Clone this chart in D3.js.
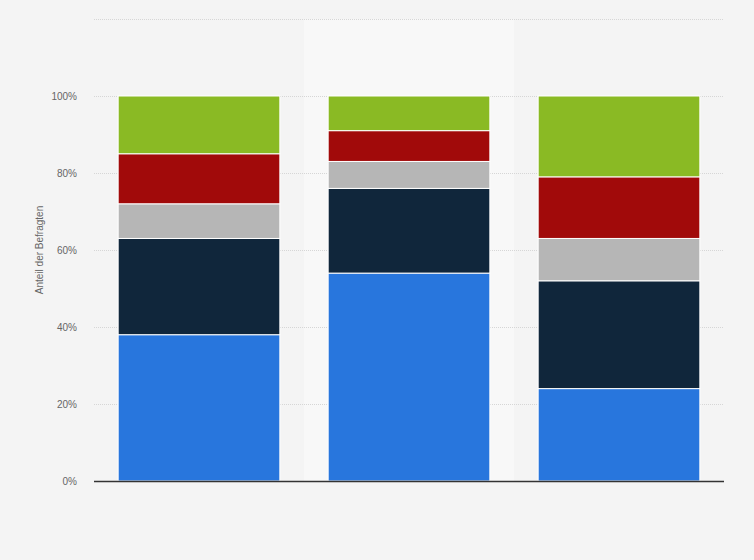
<!DOCTYPE html>
<html>
<head>
<meta charset="utf-8">
<script src="https://cdn.jsdelivr.net/npm/d3@7"></script>
<style>
  body { margin: 0; background: #f4f4f4; }
  svg { display: block; }
</style>
</head>
<body>
<svg id="chart"></svg>
<script>
// data (percent of respondents)
let categories = ["Gruppe 1", "Gruppe 2", "Gruppe 3"];
let seriesNames = ["Kategorie A", "Kategorie B", "Kategorie C", "Kategorie D", "Kategorie E"];
let serieA = [38, 54, 24];
let serieB = [25, 22, 28];
let serieC = [9, 7, 11];
let serieD = [13, 8, 16];
let serieE = [15, 9, 21];
let tickValues = [0, 20, 40, 60, 80, 100, 120];
let tickLabels = ["0%", "20%", "40%", "60%", "80%", "100%", ""];

let colors = ["#2876dd", "#10263b", "#b6b6b6", "#a10a0a", "#8aba24"];
let highlighted = "Gruppe 2";

let svg = d3.select("#chart")
    .attr("width", 754)
    .attr("height", 560);

let margin = {left: 94, right: 30, top: 19, bottom: 79};
let width = 754 - margin.left - margin.right;
let height = 560 - margin.top - margin.bottom;

svg.append("rect")
    .attr("width", 754)
    .attr("height", 560)
    .attr("fill", "#f4f4f4");

let g = svg.append("g")
    .attr("transform", "translate(" + margin.left + "," + margin.top + ")");

let x = d3.scaleBand()
    .domain(categories)
    .range([0, width])
    .paddingInner(0.23)
    .paddingOuter(0.115);

let y = d3.scaleLinear()
    .domain([0, 120])
    .range([height, 0]);

// lighter band behind the middle column
let step = x.step();
g.append("rect")
    .attr("x", x(highlighted) - (step - x.bandwidth()) / 2)
    .attr("y", 0)
    .attr("width", step)
    .attr("height", height)
    .attr("fill", "#f8f8f8");

// gridlines
tickValues.forEach(t => {
    if (t == 0) return;
    g.append("line")
        .attr("x1", 0)
        .attr("x2", width)
        .attr("y1", y(t) + 0.5)
        .attr("y2", y(t) + 0.5)
        .attr("stroke", "#d6d6d6")
        .attr("stroke-dasharray", "1,1");
});

// tick labels
tickValues.forEach((t, i) => {
    g.append("text")
        .attr("x", -17)
        .attr("y", y(t) + 3.5)
        .attr("text-anchor", "end")
        .style("font-family", "'Liberation Sans', Arial, sans-serif")
        .style("font-size", "10px")
        .style("fill", "#666666")
        .text(tickLabels[i]);
});

// stacked bars
let rows = categories.map((c, i) => ({
    cat: c,
    a: serieA[i], b: serieB[i], c: serieC[i], d: serieD[i], e: serieE[i]
}));
let stack = d3.stack().keys(["a", "b", "c", "d", "e"]);
let layers = stack(rows);

layers.forEach((layer, k) => {
    g.selectAll(".bar" + k)
        .data(layer)
        .enter()
        .append("rect")
        .attr("class", "bar" + k)
        .attr("x", d => x(d.data.cat))
        .attr("y", d => y(d[1]))
        .attr("width", x.bandwidth())
        .attr("height", d => y(d[0]) - y(d[1]))
        .attr("fill", colors[k])
        .attr("stroke", "#ffffff")
        .attr("stroke-width", 1)
        .append("title")
        .text(d => seriesNames[k] + ": " + (d[1] - d[0]) + "%");
});

// baseline
g.append("line")
    .attr("x1", 0)
    .attr("x2", width)
    .attr("y1", y(0) + 0.5)
    .attr("y2", y(0) + 0.5)
    .attr("stroke", "#333333")
    .attr("stroke-width", 1.3);

// y axis title
svg.append("text")
    .attr("transform", "translate(43," + (margin.top + y(60)) + ") rotate(-90)")
    .attr("text-anchor", "middle")
    .style("font-family", "'Liberation Sans', Arial, sans-serif")
    .style("font-size", "10px")
    .style("fill", "#666666")
    .text("Anteil der Befragten");
</script>
</body>
</html>
